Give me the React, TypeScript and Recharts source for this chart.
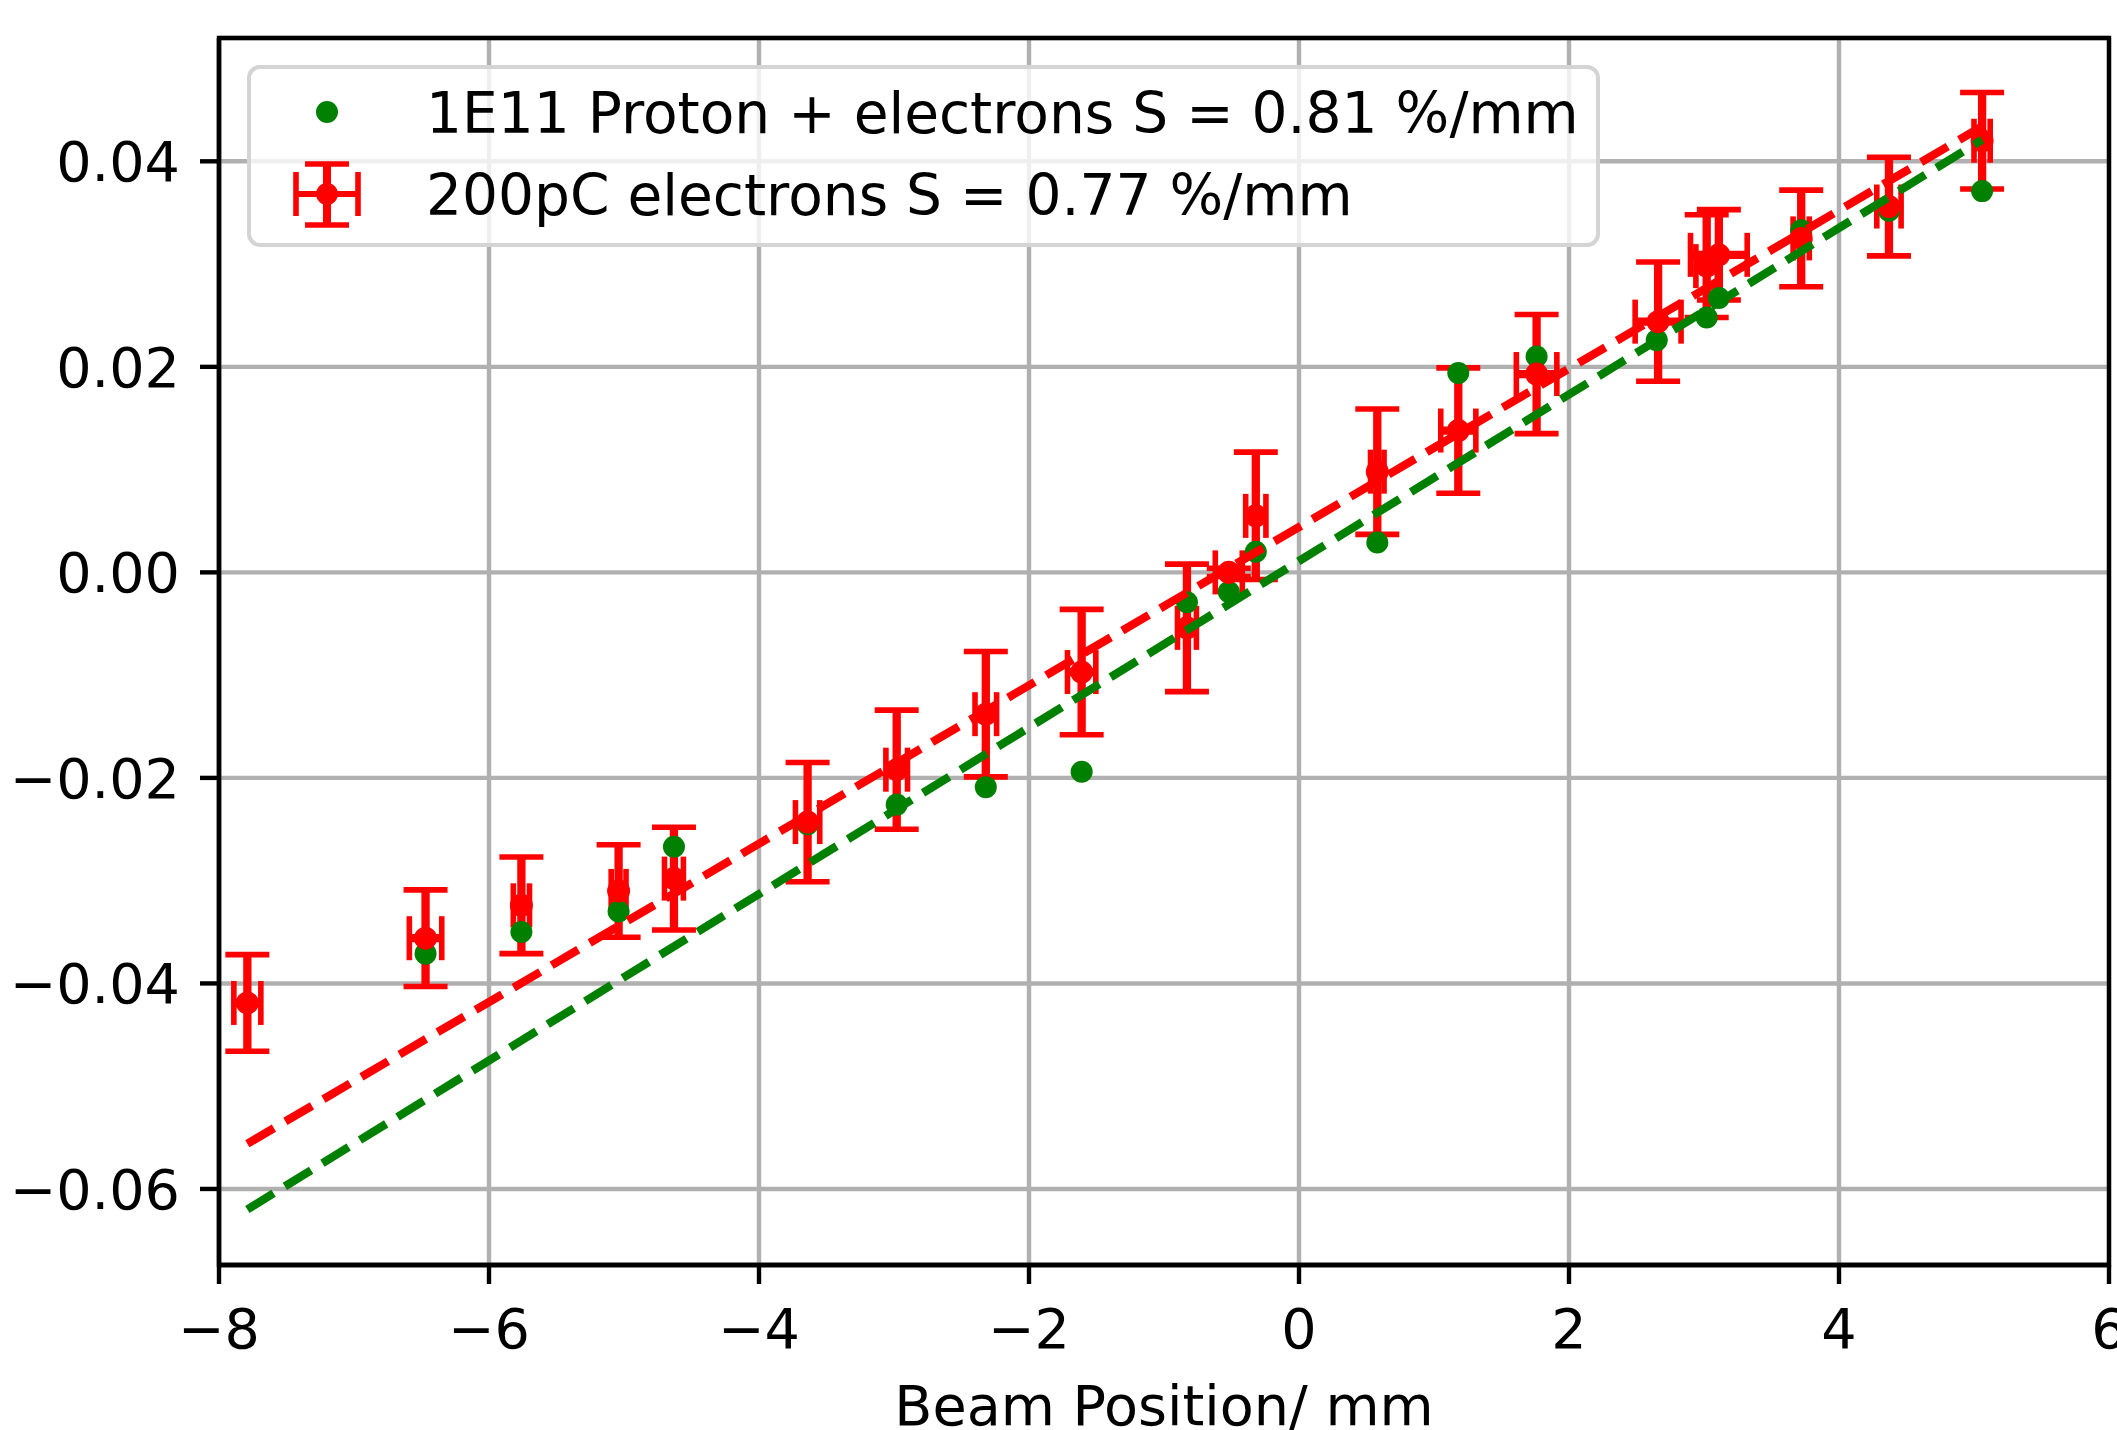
import React from 'react';
import {
  ComposedChart,
  Scatter,
  XAxis,
  YAxis,
  CartesianGrid,
  ErrorBar,
  Legend,
  ReferenceArea,
  Label,
} from 'recharts';

const FONT = "'DejaVu Sans', sans-serif";
const FS = 55.6;
const LEGEND_FS = 56.6;

// Axis setup
const xTicks = [-8, -6, -4, -2, 0, 2, 4, 6];
const yTicks = [-0.06, -0.04, -0.02, 0, 0.02, 0.04];
const xDomain: [number, number] = [-8, 6];
const yDomain: [number, number] = [-0.0674, 0.052];

// 1E11 Proton + electrons (green points)
const greenX = [-6.47, -5.76, -5.04, -4.63, -3.64, -2.98, -2.32, -1.61, -0.83, -0.52, -0.32, 0.58, 1.18, 1.76, 2.65, 3.02, 3.11, 3.72, 4.37, 5.06];
const greenY = [-0.0371, -0.035, -0.033, -0.0267, -0.0245, -0.0226, -0.0209, -0.0194, -0.0029, -0.0019, 0.002, 0.0029, 0.0194, 0.021, 0.0226, 0.0248, 0.0267, 0.0333, 0.0352, 0.0371];

// 200pC electrons (red points with error bars)
const redX = [-7.79, -6.47, -5.76, -5.04, -4.63, -3.64, -2.98, -2.32, -1.61, -0.83, -0.52, -0.32, 0.58, 1.18, 1.76, 2.66, 3.02, 3.11, 3.72, 4.37, 5.06];
const redY = [-0.0419, -0.0356, -0.0324, -0.031, -0.0298, -0.0243, -0.0192, -0.0138, -0.0097, -0.0054, 0.0, 0.0055, 0.0098, 0.0138, 0.0193, 0.0244, 0.0298, 0.0309, 0.0325, 0.0356, 0.042];
const redXErr = [0.1, 0.12, 0.06, 0.055, 0.07, 0.09, 0.08, 0.08, 0.105, 0.07, 0.1, 0.075, 0.05, 0.13, 0.15, 0.17, 0.08, 0.21, 0.06, 0.09, 0.06];
const redYErr = [0.0047, 0.0047, 0.0047, 0.0045, 0.005, 0.0058, 0.0058, 0.0061, 0.0061, 0.0062, 0.0004, 0.0062, 0.0061, 0.0061, 0.0058, 0.0058, 0.005, 0.0044, 0.0047, 0.0048, 0.0047];

// Linear fit end points
const redFitX = [-7.79, 5.06];
const redFitY = [-0.0556, 0.0434];
const greenFitX = [-7.79, 5.06];
const greenFitY = [-0.062, 0.0421];

const legendLabels = ['1E11 Proton + electrons S = 0.81 %/mm', '200pC electrons S = 0.77 %/mm'];

const GREEN = '#008000';
const RED = '#ff0000';

const greenData = greenX.map((x, i) => ({ x, y: greenY[i] }));
const redData = redX.map((x, i) => ({ x, y: redY[i], ex: redXErr[i], ey: redYErr[i] }));
const redFit = redFitX.map((x, i) => ({ x, y: redFitY[i] }));
const greenFit = greenFitX.map((x, i) => ({ x, y: greenFitY[i] }));

const minus = (s: string) => s.replace('-', '\u2212');
const fmtX = (v: number) => minus(String(v));
const fmtY = (v: number) => minus((Math.abs(v) < 1e-9 ? 0 : v).toFixed(2));

const noShape = () => <g />;
const greenDot = (p: any) => <circle cx={p.cx} cy={p.cy} r={11} fill={GREEN} />;
const redDot = (p: any) => <circle cx={p.cx} cy={p.cy} r={11.5} fill={RED} />;

const LegendBox = () => (
  <svg width={1353} height={182} style={{ display: 'block' }}>
    <rect x={2} y={2} width={1349} height={178} rx={11} ry={11} fill="#ffffff" fillOpacity={0.8} stroke="#d4d4d4" strokeWidth={4} />
    <circle cx={80} cy={47} r={11} fill={GREEN} />
    <text x={179} y={68} fontSize={LEGEND_FS} fontFamily={FONT} fill="#000">{legendLabels[0]}</text>
    {/* errorbar icon */}
    <line x1={80} y1={99} x2={80} y2={160} stroke={RED} strokeWidth={8} />
    <line x1={58} y1={99} x2={102} y2={99} stroke={RED} strokeWidth={5.6} />
    <line x1={58} y1={160} x2={102} y2={160} stroke={RED} strokeWidth={5.6} />
    <line x1={49} y1={129} x2={111} y2={129} stroke={RED} strokeWidth={6} />
    <line x1={49} y1={107} x2={49} y2={151} stroke={RED} strokeWidth={5.6} />
    <line x1={111} y1={107} x2={111} y2={151} stroke={RED} strokeWidth={5.6} />
    <circle cx={80} cy={129} r={11} fill={RED} />
    <text x={179} y={150} fontSize={LEGEND_FS} fontFamily={FONT} fill="#000">{legendLabels[1]}</text>
  </svg>
);

const tickStyle = { fontSize: FS, fill: '#000', fontFamily: FONT };
const axisLineStyle = { stroke: '#000', strokeWidth: 4.4 };

export default function App() {
  return (
    <div style={{ position: 'fixed', left: 0, top: 0, width: 2117, height: 1430, background: '#fff', overflow: 'hidden' }}>
      <ComposedChart width={2117} height={1430} margin={{ top: 38, right: 8, bottom: 0, left: 0 }}>
        <CartesianGrid stroke="#b0b0b0" strokeWidth={4.4} />
        <XAxis
          dataKey="x"
          type="number"
          domain={xDomain}
          ticks={xTicks}
          allowDataOverflow
          interval={0}
          height={165}
          tickSize={19}
          tickMargin={25}
          tick={tickStyle}
          tickLine={axisLineStyle}
          axisLine={axisLineStyle}
          tickFormatter={fmtX}
        >
          <Label value="Beam Position/ mm" position="insideBottom" offset={5} style={{ fontSize: FS, fill: '#000', fontFamily: FONT }} />
        </XAxis>
        <YAxis
          dataKey="y"
          type="number"
          domain={yDomain}
          ticks={yTicks}
          allowDataOverflow
          interval={0}
          width={219}
          tickSize={19}
          tickMargin={20}
          tick={tickStyle}
          tickLine={axisLineStyle}
          axisLine={axisLineStyle}
          tickFormatter={fmtY}
        />
        <Scatter data={redData} shape={noShape} isAnimationActive={false}>
          <ErrorBar dataKey="ey" direction="y" width={22} stroke={RED} strokeWidth={5.6} isAnimationActive={false} />
          <ErrorBar dataKey="ey" direction="y" width={0} stroke={RED} strokeWidth={8.3} isAnimationActive={false} />
          <ErrorBar dataKey="ex" direction="x" width={22} stroke={RED} strokeWidth={5.6} isAnimationActive={false} />
          <ErrorBar dataKey="ex" direction="x" width={0} stroke={RED} strokeWidth={8.3} isAnimationActive={false} />
        </Scatter>
        <Scatter data={greenData} shape={greenDot} isAnimationActive={false} />
        <Scatter data={redData} shape={redDot} isAnimationActive={false} />
        <Scatter
          data={redFit}
          shape={noShape}
          isAnimationActive={false}
          line={{ stroke: RED, strokeWidth: 8.3, strokeDasharray: '30.8 13.3' }}
        />
        <Scatter
          data={greenFit}
          shape={noShape}
          isAnimationActive={false}
          line={{ stroke: GREEN, strokeWidth: 8.3, strokeDasharray: '30.8 13.3' }}
        />
        <ReferenceArea x1={xDomain[0]} x2={xDomain[1]} y1={yDomain[0]} y2={yDomain[1]} fill="none" fillOpacity={0} stroke="#000" strokeWidth={4.4} ifOverflow="visible" />
        <Legend
          verticalAlign="middle"
          align="center"
          layout="horizontal"
          content={() => <LegendBox />}
          wrapperStyle={{ position: 'absolute', left: 247, top: 65, width: 1353, height: 182 }}
        />
      </ComposedChart>
    </div>
  );
}
